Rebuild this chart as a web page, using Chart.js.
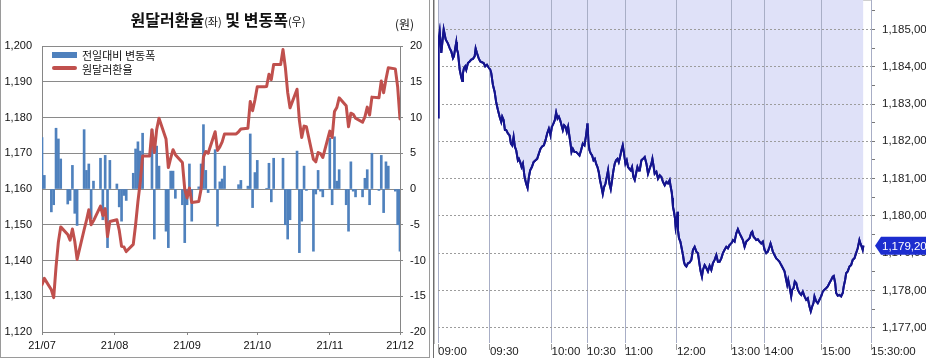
<!DOCTYPE html>
<html><head><meta charset="utf-8">
<script src="https://cdn.jsdelivr.net/npm/chart.js@4.4.1/dist/chart.umd.min.js"></script>
<style>
html,body{margin:0;padding:0;background:#fff;}
body{width:926px;height:358px;position:relative;overflow:hidden;font-family:'Liberation Sans',Arial,sans-serif;}
#frameL{position:absolute;left:0;top:0;width:430px;height:358px;box-sizing:border-box;border:1px solid #9a9a9a;border-top:none;}
#c1{position:absolute;left:0;top:0;}
#c2{position:absolute;left:434px;top:0;}
#lineR{position:absolute;left:433px;top:0;width:1px;height:358px;background:#6e6e6e;}
.kr{font-family:'Noto Sans CJK KR','Noto Sans',sans-serif;}
#title{position:absolute;left:0;top:8px;width:436px;text-align:center;font-size:16px;font-weight:700;line-height:22px;color:#111;}
#title small{font-size:11px;font-weight:400;}
#unit{position:absolute;left:395px;top:16px;font-size:12px;line-height:16px;color:#111;}
.lg{position:absolute;font-size:11px;line-height:14px;color:#111;}
</style></head>
<body>
<div id="frameL"></div>
<canvas id="c1" width="430" height="358"></canvas>
<div id="title" class="kr">원달러환율<small>(좌)</small> 및 변동폭<small>(우)</small></div>
<div id="unit" class="kr">(원)</div>
<div style="position:absolute;left:52px;top:52px;width:25px;height:6px;background:#4f81bd"></div>
<div class="lg kr" style="left:82px;top:48px">전일대비 변동폭</div>
<div style="position:absolute;left:52px;top:66px;width:25px;height:4px;background:#c0504d;border-radius:2px"></div>
<div class="lg kr" style="left:82px;top:62px">원달러환율</div>
<div id="lineR"></div>
<canvas id="c2" width="492" height="358"></canvas>
<script>
// ---------- Left chart data ----------
const dates = ['07-01','07-02','07-05','07-06','07-07','07-08','07-09','07-12','07-13','07-14','07-15','07-16','07-19','07-20','07-21','07-22','07-23','07-26','07-27','07-28','07-29','07-30',
'08-02','08-03','08-04','08-05','08-06','08-09','08-10','08-11','08-12','08-13','08-16','08-17','08-18','08-19','08-20','08-23','08-24','08-25','08-26','08-27','08-30','08-31',
'09-01','09-02','09-03','09-06','09-07','09-08','09-09','09-10','09-13','09-14','09-15','09-16','09-17','09-20','09-21','09-22','09-23','09-24','09-27','09-28','09-29','09-30',
'10-01','10-04','10-05','10-06','10-07','10-08','10-11','10-12','10-13','10-14','10-15','10-18','10-19','10-20','10-21','10-22','10-25','10-26','10-27','10-28','10-29',
'11-01','11-02','11-03','11-04','11-05','11-08','11-09','11-10','11-11','11-12','11-15','11-16','11-17','11-18','11-19','11-22','11-23','11-24','11-25','11-26','11-29','11-30','12-01'];
const rates = [1133.2,1135.0,1131.8,1129.6,1138.2,1145.2,1149.4,1147.3,1145.7,1148.8,1145.4,1140.3,1148.6,1151.2,1154.2,1150.0,1151.1,1155.2,1152.6,1154.5,1146.7,1150.9,
1151.4,1148.5,1144.0,1143.8,1142.5,1144.5,1150.0,1156.5,1162.0,1169.2,1169.2,1176.6,1170.2,1176.6,1179.8,1174.0,1166.0,1168.6,1171.0,1169.6,1167.4,1160.0,
1157.5,1160.3,1156.2,1156.5,1160.0,1169.0,1170.5,1170.0,1176.0,1170.8,1171.8,1173.2,1175.4,1175.4,1175.4,1175.4,1176.0,1176.8,1177.0,1184.5,1181.9,1184.9,
1188.6,1188.6,1188.7,1192.1,1190.6,1194.8,1194.8,1199.0,1194.0,1187.0,1182.7,1187.9,1179.2,1174.4,1177.6,1177.4,1168.3,1167.6,1170.2,1169.9,1168.8,
1176.2,1174.4,1181.7,1182.8,1185.5,1183.3,1177.4,1181.2,1180.9,1179.8,1178.7,1180.2,1182.9,1180.7,1185.7,1185.5,1190.2,1186.9,1190.7,1193.9,1193.6,1188.6,1179.6];
const changes = [7.2,1.9,-3.2,-2.2,8.5,7.0,4.2,-2.1,-1.6,3.3,-3.4,-5.1,8.3,2.6,3.5,-4.2,1.1,4.3,-4.3,4.7,-8.2,4.0,
0.7,-2.5,-4.5,-0.9,-1.6,2.2,5.6,6.6,5.3,7.8,null,8.3,-7.0,6.0,3.2,-5.9,-8.2,2.5,2.5,-1.3,-2.2,-7.5,
-2.2,3.5,-4.5,0.3,3.5,9.0,2.6,-0.5,5.5,-5.2,1.0,1.4,3.2,null,null,null,0.6,1.2,0.4,7.7,-2.6,2.3,
4.0,null,0.1,3.6,-1.8,4.3,null,4.3,-5.0,-7.0,-4.3,5.3,-8.9,-4.5,3.2,-0.2,-8.7,-0.7,2.6,-0.3,-1.1,
7.1,-2.2,7.3,1.1,2.7,-2.2,-5.9,3.8,-0.3,-1.1,-1.1,1.5,2.7,-2.2,5.0,-0.2,4.7,-3.3,3.8,3.2,-0.3,-5.0,-8.7];
const monthLabels = ['21/07','21/08','21/09','21/10','21/11','21/12'];
const monthStarts = ['07-01','08-01','09-01','10-01','11-01','12-01'];

// ---------- Right chart data (intraday, by tick sequence) ----------
const timeLabels = ['09:00','09:30','10:00','10:30','11:00','12:00','13:00','14:00','15:00','15:30:00'];
const timeTickNo = [0,52,113.7,149.3,187.3,239.3,293.7,327,384.3,433.6];
const tickNo = [0,0.3,0.7,1.7,3.3,5.7,7.7,10,11.7,13.3,15,16,17,18.3,19,20,21.7,23.3,24.3,25,26,27.3,28.3,30,31.7,33.3,35,36.7,37.7,39,40.7,42.3,44,45.7,47.3,49,50.7,52.3,53.3,55,56.7,58.3,60,61.7,63.3,64.3,65.7,67,68.3,70,71.7,73,74.3,75.7,77,78.3,80,81,82.3,83.7,85,86.7,88.3,89.7,91,92.3,94,95.7,97.7,99.3,101,102.7,104.3,106,107.7,109.3,111,112.7,114,115.7,117,118.3,119.7,121,122.3,123.7,125,126.3,127.7,129,130.3,131.7,132.7,133.7,135,136.7,138.3,140,141.7,143.3,145,146.7,148.3,149.7,150.7,151.7,153,154.3,155.7,157,158.3,159.7,161,162.3,163.7,165,166.3,167.7,169,170.3,171.7,173,174.3,175.7,177,178.3,179.7,181,182.3,183.7,185,186.3,187.7,189,190.3,191.7,193,194.3,195.7,197,198.3,199.7,201,
202,203.7,205.3,207,208.7,210.3,212,213.7,214.7,216,217,218.7,220.3,222,223.7,225.3,227,228.7,230.3,232,233,234,234.7,235.3,236.3,237.3,238,238.7,239.7,240.3,241.3,242.7,244,245.3,246.3,247.3,248.7,250.3,252,253.7,255.3,257,258.7,260.3,262,263,264.3,265.3,267,268.7,270.3,272,273.7,275.3,277,278.7,280.3,282,283.7,285.3,287,288.7,290.3,292,293.7,295.3,297,298.7,300.3,302,303.7,305.3,307,308.7,310.3,312,313.7,314.7,316,317.3,318.7,320.3,322,323.7,325.3,327,328.7,330.3,332,333,334,335.3,337,338.7,340.3,342,343.7,345.3,347,348.7,349.7,350.7,352,353.7,354.7,356,357.3,358.7,360.3,362,363.7,365.3,367,368.7,370.3,372,373.3,374.7,376,377,378.7,380.3,382,383.7,385.3,387,388.7,390.3,392,393.7,395.3,396.3,397.7,398.7,400.3,402,403.7,405.3,406.3,407.7,408.7,410.3,412,413.7,415.3,417,418.7,420.3,422,423,424.3,425.3,426];
const price = [1182.64,1183.33,1184.73,1184.95,1184.37,1185.00,1184.73,1184.62,1184.50,1184.41,1184.23,1184.28,1184.46,1184.66,1184.46,1184.37,1183.92,1183.72,1183.62,1183.83,1183.96,1184.01,1183.92,1184.10,1184.14,1184.19,1184.21,1184.28,1184.49,1184.37,1184.23,1184.14,1184.12,1184.10,1184.01,1184.05,1183.98,1183.92,1183.83,1183.51,1183.33,1183.04,1182.84,1182.66,1182.52,1182.66,1182.57,1182.30,1182.30,1182.21,1182.16,1181.94,1181.89,1182.12,1181.85,1181.76,1181.49,1181.53,1181.44,1181.31,1181.40,1181.04,1180.86,1180.75,1181.04,1181.22,1181.31,1181.44,1181.49,1181.53,1181.67,1181.80,1181.86,1181.89,1182.03,1182.21,1182.34,1182.16,1182.39,1182.48,1182.57,1182.77,1182.61,1182.66,1182.57,1182.43,1182.30,1182.43,1182.39,1182.25,1182.39,1182.12,1181.94,1181.71,1181.80,1181.71,1181.71,1181.67,1181.62,1181.76,1181.94,1181.89,1182.16,1182.48,1181.94,1181.76,1181.67,1181.62,1181.49,1181.53,1181.40,1181.31,1181.17,1180.95,1180.77,1180.59,1180.77,1180.86,1181.04,1181.22,1180.86,1180.72,1180.95,1181.22,1181.40,1181.49,1181.53,1181.44,1181.58,1181.76,1181.89,1181.67,1181.40,1181.49,1181.31,1181.26,1181.22,1181.31,1181.04,1180.96,1181.13,1181.31,1181.22,
1181.22,1181.49,1181.53,1181.58,1181.40,1181.13,1181.27,1181.40,1181.53,1181.31,1181.13,1181.18,1181.00,1181.09,1181.04,1180.91,1180.82,1180.91,1180.87,1180.96,1180.78,1180.64,1180.47,1180.24,1180.11,1179.93,1179.69,1179.80,1180.11,1179.62,1179.40,1179.31,1179.13,1178.95,1178.77,1178.68,1178.64,1178.73,1178.75,1178.82,1179.09,1179.17,1179.04,1179.00,1178.68,1178.51,1178.37,1178.55,1178.68,1178.60,1178.51,1178.66,1178.55,1178.73,1178.82,1178.95,1178.77,1178.77,1178.86,1179.00,1179.09,1179.17,1179.13,1179.22,1179.26,1179.35,1179.31,1179.53,1179.64,1179.53,1179.44,1179.35,1179.17,1179.31,1179.35,1179.40,1179.55,1179.58,1179.44,1179.40,1179.35,1179.37,1179.31,1179.26,1179.31,1179.09,1179.00,1179.04,1179.17,1179.26,1179.17,1179.04,1178.95,1178.86,1178.82,1178.77,1178.68,1178.60,1178.51,1178.28,1178.15,1178.28,1178.11,1177.84,1178.02,1178.06,1178.24,1178.20,1178.02,1177.93,1177.88,1177.97,1177.84,1177.75,1177.79,1177.57,1177.44,1177.57,1177.66,1177.84,1177.71,1177.66,1177.75,1177.84,1177.97,1178.02,1178.06,1178.11,1178.20,1178.28,1178.37,1178.39,1178.20,1177.93,1177.86,1177.88,1177.84,1177.93,1178.11,1178.28,1178.46,1178.51,1178.64,1178.68,1178.82,1178.86,1179.00,1179.13,1179.35,1179.26,1179.17,1179.09,1179.20];

// ---------- helpers ----------
const day0 = Date.UTC(2021,6,1);
const dayOf = s => { const p = s.split('-').map(Number); return Math.round((Date.UTC(2021,p[0]-1,p[1]) - day0)/864e5); };
const xs = dates.map(dayOf);
const monthTicks = monthStarts.map(dayOf);
const fmtKR = v => { const s = v.toFixed(2).split('.'); return Number(s[0]).toLocaleString('en-US') + ',' + s[1]; };
const numFont = {family:"'Liberation Sans', Arial, sans-serif", size:11};
const rFam = "'Liberation Sans', Arial, sans-serif";

// ---------- Left chart ----------
new Chart(document.getElementById('c1'), {
  type: 'bar',
  data: {
    datasets: [
      {type:'line', label:'원달러환율', data: xs.map((x,i)=>({x:x, y:rates[i]})), yAxisID:'y',
       borderColor:'#c0504d', borderWidth:3, pointRadius:0, tension:0, order:0,
       borderJoinStyle:'round', borderCapStyle:'round'},
      {type:'bar', label:'전일대비 변동폭', data: xs.map((x,i)=>({x:x, y:changes[i]})), yAxisID:'y2',
       backgroundColor:'#4f81bd', barThickness:2, order:1}
    ]
  },
  options: {
    responsive:false, animation:false,
    layout:{padding:{top:46, left:0, right:0, bottom:0}},
    plugins:{legend:{display:false}, tooltip:{enabled:false}},
    scales:{
      x:{type:'linear', min:0, max:153, offset:false,
         afterBuildTicks: s => { s.ticks = monthTicks.map(v => ({value:v})); },
         ticks:{autoSkip:false, maxRotation:0, padding:4, font:numFont, color:'#111',
                callback:(v,i) => monthLabels[i]},
         grid:{offset:false, drawOnChartArea:false, tickLength:3, color:'#868686'},
         border:{color:'#868686'},
         afterFit: s => { s.height = 26; }},
      y:{position:'left', min:1120, max:1200,
         ticks:{stepSize:10, padding:10, font:numFont, color:'#111', callback: v => v.toLocaleString('en-US')},
         grid:{color:'#8a8a8a', drawTicks:false},
         border:{color:'#868686'},
         afterFit: s => { s.width = 42; }},
      y2:{position:'right', min:-20, max:20,
         ticks:{stepSize:5, padding:7, font:numFont, color:'#111'},
         grid:{drawOnChartArea:false, tickLength:3, color:'#868686'},
         border:{color:'#868686'},
         afterFit: s => { s.width = 30; }}
    }
  }
});

// ---------- Right chart ----------
const tagPlugin = {
  id:'lastTag',
  afterDraw(chart){
    const {ctx, chartArea, scales} = chart;
    // redraw the price line above the grid layer
    const meta = chart.getDatasetMeta(0);
    ctx.save();
    ctx.beginPath();
    ctx.rect(chartArea.left, chartArea.top, chartArea.right - chartArea.left, chartArea.bottom - chartArea.top);
    ctx.clip();
    meta.dataset.draw(ctx, chartArea);
    ctx.restore();
    // last value tag
    const v = price[price.length-1];
    const py = scales.y.getPixelForValue(v);
    const x0 = chartArea.right + 4;
    ctx.save();
    ctx.fillStyle = '#1c2dcf';
    ctx.beginPath();
    ctx.moveTo(x0, py);
    ctx.lineTo(x0+6, py-9);
    ctx.lineTo(chart.width, py-9);
    ctx.lineTo(chart.width, py+9);
    ctx.lineTo(x0+6, py+9);
    ctx.closePath();
    ctx.fill();
    ctx.fillStyle = '#fff';
    ctx.font = '11.5px ' + rFam;
    ctx.textBaseline = 'middle';
    ctx.textAlign = 'left';
    ctx.fillText(fmtKR(v), x0+7, py+1);
    ctx.restore();
  }
};

new Chart(document.getElementById('c2'), {
  type:'line',
  data:{datasets:[{
    label:'원달러환율', data: tickNo.map((x,i)=>({x:x, y:price[i]})),
    borderColor:'#14148e', borderWidth:2, pointRadius:0, tension:0,
    fill:'end', backgroundColor:'#dfe1f8'
  }]},
  options:{
    responsive:false, animation:false,
    layout:{padding:{left:4, top:0, right:0, bottom:0}},
    plugins:{legend:{display:false}, tooltip:{enabled:false}},
    scales:{
      x:{type:'linear', min:0, max:433.6,
         afterBuildTicks: s => { s.ticks = timeTickNo.map(v => ({value:v})); },
         ticks:{autoSkip:false, maxRotation:0, align:'start', padding:-5,
                font:{family:rFam, size:11.5}, color:'#222',
                callback:(v,i) => timeLabels[i]},
         grid:{color:'#a8aec6', tickLength:7, tickColor:'#9a9a9a', z:1},
         border:{display:true, color:'#a0a0a0'},
         afterFit: s => { s.height = 15; s.paddingLeft = 0; s.paddingRight = 0; }},
      y:{position:'right', min:1176.59, max:1185.79,
         afterBuildTicks: s => { const t=[]; for (let k=0;k<=17;k++) t.push({value:1177+k*0.5}); s.ticks = t; },
         ticks:{padding:7, font:{family:rFam, size:11.5}, color:'#222',
                callback: v => Number.isInteger(v) ? fmtKR(v) : ''},
         grid:{color: c => (c.tick && Number.isInteger(c.tick.value)) ? '#9c9c9c' : 'rgba(0,0,0,0)',
               tickLength:4, tickColor:'#777', z:1},
         border:{color:'#777', dash:[2,2]},
         afterFit: s => { s.width = 55; s.paddingTop = 0; s.paddingBottom = 0; }}
    }
  },
  plugins:[tagPlugin]
});
</script>
</body></html>
